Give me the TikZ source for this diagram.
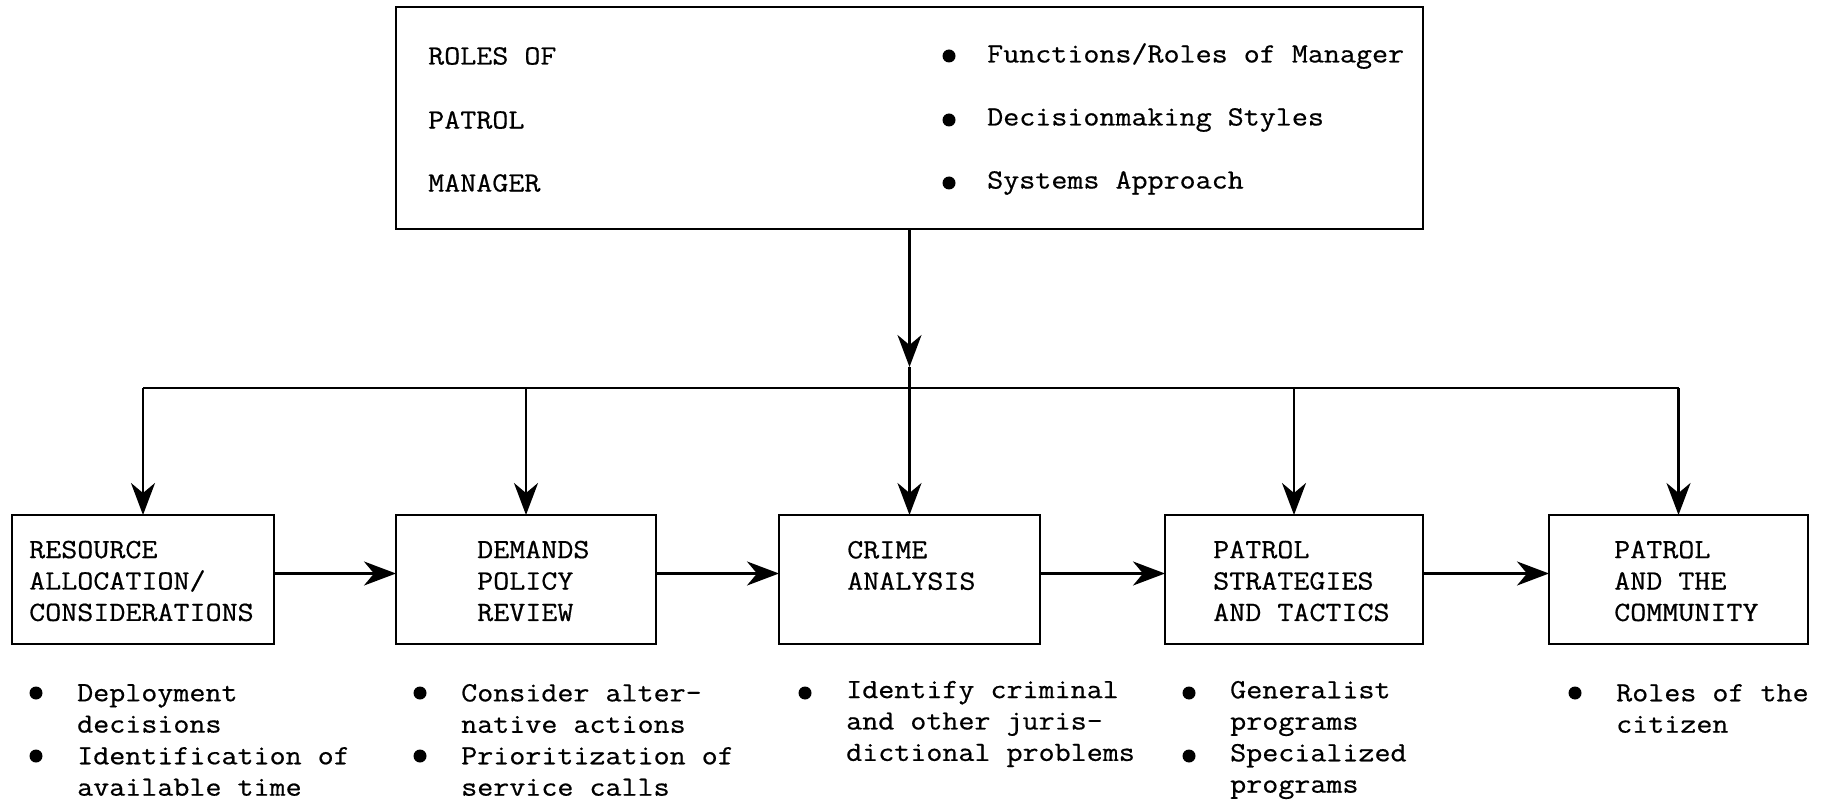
\documentclass[tikz,border=0pt]{standalone}
\usepackage{fontspec}
\setmonofont[FakeStretch=1.12,FakeBold=0.6]{Latin Modern Mono}
\usetikzlibrary{arrows.meta}
\begin{document}
\begin{tikzpicture}[x=1pt,y=-1pt,
  box/.style={draw, line width=2.6pt, outer sep=0pt, inner sep=0pt, anchor=north west},
  txt/.style={font=\ttfamily\fontsize{27.8}{31.4}\selectfont, inner sep=0pt, align=left, anchor=west},
  dot/.style={circle, fill, inner sep=0pt, minimum size=13pt},
  ln/.style={line width=2.4pt},
  arr/.style={line width=2.4pt, -{Stealth[length=32pt,width=24pt,inset=10pt]}}]
\useasboundingbox[fill=white] (0,0) rectangle (1826,802);
% top box
\node[box, minimum width=1027pt, minimum height=222pt] (top) at (396,7) {};
\node[txt] (t1) at (428,56) {ROLES OF};
\node[txt] (t2) at (428,120) {PATROL};
\node[txt] (t3) at (428,183) {MANAGER};
\node[dot] (d1) at (949,56) {};
\node[dot] (d2) at (949,120) {};
\node[dot] (d3) at (949,183) {};
\node[txt] (r1) at (987,56) {Functions/Roles of Manager};
\node[txt] (r2) at (987,120) {Decisionmaking Styles};
\node[txt] (r3) at (987,183) {Systems Approach};
% lower boxes
\node[box, minimum width=262pt, minimum height=129pt] (b1) at (12,515) {};
\node[box, minimum width=260pt, minimum height=129pt] (b2) at (396,515) {};
\node[box, minimum width=261pt, minimum height=129pt] (b3) at (779,515) {};
\node[box, minimum width=258pt, minimum height=129pt] (b4) at (1165,515) {};
\node[box, minimum width=259pt, minimum height=129pt] (b5) at (1549,515) {};
\node[txt] (x1) at (29,581) {RESOURCE\\ALLOCATION/\\CONSIDERATIONS};
\node[txt] (x2) at (477,581) {DEMANDS\\POLICY\\REVIEW};
\node[txt] (x3) at (847,565.5) {CRIME\\ANALYSIS};
\node[txt] (x4) at (1213,581) {PATROL\\STRATEGIES\\AND TACTICS};
\node[txt] (x5) at (1614,581) {PATROL\\AND THE\\COMMUNITY};
% connectors
\coordinate (bus) at (0,388);
\coordinate (mid) at (909.5,367);
\draw[arr] (top.south) -- (mid);
\draw[ln] (mid) -- (top.south |- bus);
\draw[ln] (b1.north |- bus) -- (b5.north |- bus);
\foreach \b in {b1,b2,b3,b4,b5} \draw[arr] (\b.north |- bus) -- (\b.north);
\draw[arr] ([yshift=6pt]b1.east) -- ([yshift=6pt]b2.west);
\draw[arr] ([yshift=6pt]b2.east) -- ([yshift=6pt]b3.west);
\draw[arr] ([yshift=6pt]b3.east) -- ([yshift=6pt]b4.west);
\draw[arr] ([yshift=6pt]b4.east) -- ([yshift=6pt]b5.west);
% bullet lists
\node[dot] (e1) at (36,693) {};
\node[txt] (l1) at (77,708.5) {Deployment\\decisions};
\node[dot] (e2) at (36,756) {};
\node[txt] (l2) at (77,771.5) {Identification of\\available time};
\node[dot] (e3) at (420,693) {};
\node[txt] (l3) at (461,708.5) {Consider alter-\\native actions};
\node[dot] (e4) at (420,756) {};
\node[txt] (l4) at (461,771.5) {Prioritization of\\service calls};
\node[dot] (e5) at (805,693) {};
\node[txt] (l5) at (846,724) {Identify criminal\\and other juris-\\dictional problems};
\node[dot] (e6) at (1189,693) {};
\node[txt] (l6) at (1230,708.5) {Generalist\\programs};
\node[dot] (e7) at (1189,756) {};
\node[txt] (l7) at (1230,771.5) {Specialized\\programs};
\node[dot] (e8) at (1575,693) {};
\node[txt] (l8) at (1616,708.5) {Roles of the\\citizen};
\end{tikzpicture}
\end{document}
